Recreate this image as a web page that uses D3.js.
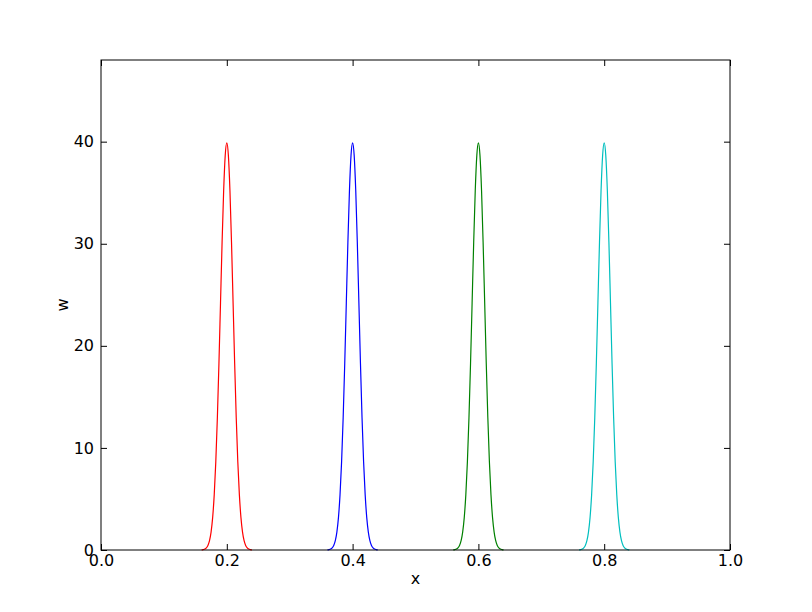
<!DOCTYPE html>
<html>
<head>
<meta charset="utf-8">
<script src="https://cdn.jsdelivr.net/npm/d3@7"></script>
<style>
  body { margin: 0; background: #fff; }
  text { font-family: "DejaVu Sans", sans-serif; }
</style>
</head>
<body>
<div id="chart"></div>
<script>
// x positions of each peak centre
var centers = [0.2, 0.4, 0.6, 0.8]
var colors = ["#ff0000", "#0000ff", "#008000", "#00bfbf"]

// sample offsets from the peak centre, and w values
var offsets = [-0.04, -0.0375, -0.035, -0.0325, -0.03, -0.0275, -0.025, -0.0225, -0.02, -0.0175,
               -0.015, -0.0125, -0.01, -0.0075, -0.005, -0.0025, 0, 0.0025, 0.005, 0.0075,
               0.01, 0.0125, 0.015, 0.0175, 0.02, 0.0225, 0.025, 0.0275, 0.03, 0.0325,
               0.035, 0.0375, 0.04]
var wRed   = [0.01, 0.04, 0.09, 0.2, 0.44, 0.91, 1.75, 3.17, 5.4, 8.63, 12.95, 18.26, 24.2, 30.11, 35.21, 38.66, 39.89,
              38.66, 35.21, 30.11, 24.2, 18.26, 12.95, 8.63, 5.4, 3.17, 1.75, 0.91, 0.44, 0.2, 0.09, 0.04, 0.01]
var wBlue  = [0.01, 0.04, 0.09, 0.2, 0.44, 0.91, 1.75, 3.17, 5.4, 8.63, 12.95, 18.26, 24.2, 30.11, 35.21, 38.66, 39.89,
              38.66, 35.21, 30.11, 24.2, 18.26, 12.95, 8.63, 5.4, 3.17, 1.75, 0.91, 0.44, 0.2, 0.09, 0.04, 0.01]
var wGreen = [0.01, 0.04, 0.09, 0.2, 0.44, 0.91, 1.75, 3.17, 5.4, 8.63, 12.95, 18.26, 24.2, 30.11, 35.21, 38.66, 39.89,
              38.66, 35.21, 30.11, 24.2, 18.26, 12.95, 8.63, 5.4, 3.17, 1.75, 0.91, 0.44, 0.2, 0.09, 0.04, 0.01]
var wCyan  = [0.01, 0.04, 0.09, 0.2, 0.44, 0.91, 1.75, 3.17, 5.4, 8.63, 12.95, 18.26, 24.2, 30.11, 35.21, 38.66, 39.89,
              38.66, 35.21, 30.11, 24.2, 18.26, 12.95, 8.63, 5.4, 3.17, 1.75, 0.91, 0.44, 0.2, 0.09, 0.04, 0.01]
var series = [wRed, wBlue, wGreen, wCyan]

var xTicks = [0, 0.2, 0.4, 0.6, 0.8, 1.0]
var yTicks = [0, 10, 20, 30, 40]

var W = 812, H = 612
var margin = {top: 60, right: 82, bottom: 62, left: 101}
var width = W - margin.left - margin.right,
    height = H - margin.top - margin.bottom

var svg = d3.select("#chart").append("svg")
    .attr("width", W)
    .attr("height", H)

var g = svg.append("g")
    .attr("transform", "translate(" + margin.left + "," + margin.top + ")")

var x = d3.scaleLinear().domain([0, 1]).range([0, width])
var y = d3.scaleLinear().domain([0, 48]).range([height, 0])

// curves
var line = d3.line()
    .x(function(d) { return x(d[0]); })
    .y(function(d) { return y(d[1]); })
    .curve(d3.curveMonotoneX)

series.forEach(function(vals, i) {
  var pts = offsets.map(function(o, j) { return [centers[i] + o, vals[j]]; })
  g.append("path")
    .datum(pts)
    .attr("fill", "none")
    .attr("stroke", colors[i])
    .attr("stroke-width", 1.2)
    .attr("d", line)
})

// axes, ticks pointing inward on all four sides
function style(sel) {
  sel.select(".domain").remove()
  sel.selectAll("line").attr("stroke", "#000")
  sel.selectAll("text").attr("font-size", "16px").attr("fill", "#000")
}

g.append("g")
  .attr("transform", "translate(0," + height + ")")
  .call(d3.axisBottom(x).tickValues(xTicks).tickSize(-6).tickPadding(5).tickFormat(d3.format(".1f")))
  .call(style)

g.append("g")
  .call(d3.axisTop(x).tickValues(xTicks).tickSize(-6).tickFormat(""))
  .call(style)

g.append("g")
  .call(d3.axisLeft(y).tickValues(yTicks).tickSize(-6).tickPadding(7).tickFormat(d3.format("d")))
  .call(style)

g.append("g")
  .attr("transform", "translate(" + width + ",0)")
  .call(d3.axisRight(y).tickValues(yTicks).tickSize(-6).tickFormat(""))
  .call(style)

// frame
g.append("rect")
  .attr("width", width)
  .attr("height", height)
  .attr("fill", "none")
  .attr("stroke", "#000")
  .attr("stroke-width", 1)

// axis labels
g.append("text")
  .attr("x", width / 2)
  .attr("y", height + 34)
  .attr("text-anchor", "middle")
  .attr("font-size", "16px")
  .text("x")

g.append("text")
  .attr("transform", "translate(-33," + (height / 2) + ") rotate(-90)")
  .attr("text-anchor", "middle")
  .attr("font-size", "16px")
  .text("w")
</script>
</body>
</html>
